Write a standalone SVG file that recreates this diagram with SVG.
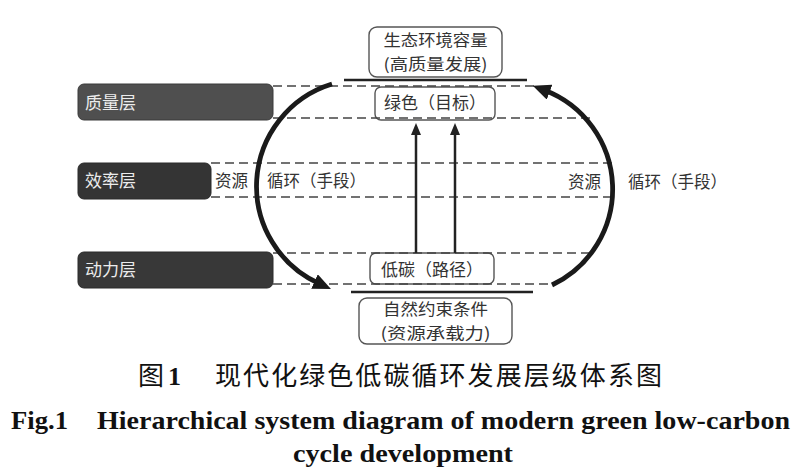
<svg xmlns="http://www.w3.org/2000/svg" width="800" height="470" viewBox="0 0 800 470">
<style>
.cjk{font-family:"Noto Sans CJK SC","Noto Sans",sans-serif;}
.t{font-size:17px;fill:#333;}
.t2{font-size:16px;fill:#333;}
.lay{font-size:17px;fill:#ececec;}
.box{fill:#fff;stroke:#555;stroke-width:1.4;}
.dash{stroke:#444;stroke-width:1.5;stroke-dasharray:9 5;fill:none;}
.bar{stroke:#222;stroke-width:2.5;}
.arc{fill:none;stroke:#1a1a1a;stroke-width:4.8;}
.varr{stroke:#222;stroke-width:2.5;}
.en{font-family:"Liberation Serif","Times New Roman",serif;font-weight:bold;font-size:26px;fill:#111;}
</style>
<defs>
<marker id="big" markerUnits="userSpaceOnUse" markerWidth="18" markerHeight="16" refX="6" refY="8" orient="auto">
<path d="M0,0 L18,8 L0,16 z" fill="#1a1a1a"/>
</marker>
<marker id="small" markerUnits="userSpaceOnUse" markerWidth="12" markerHeight="10" refX="4" refY="5" orient="auto">
<path d="M0,0 L12,5 L0,10 z" fill="#222"/>
</marker>
</defs>
<rect width="800" height="470" fill="#fff"/>

<g id="layer-quality">
<rect x="78" y="84" width="195" height="36" rx="6" fill="#4f4f4f" stroke="#3a3a3a"/>
<text class="cjk lay" x="85" y="109">质量层</text>
</g>
<g id="layer-efficiency">
<rect x="78" y="163" width="133" height="36" rx="6" fill="#343434" stroke="#2a2a2a"/>
<text class="cjk lay" x="85" y="187">效率层</text>
</g>
<g id="layer-power">
<rect x="78" y="252" width="195" height="36" rx="6" fill="#383838" stroke="#2a2a2a"/>
<text class="cjk lay" x="85" y="276">动力层</text>
</g>

<g id="node-capacity">
<rect class="box" x="369" y="27" width="133" height="50" rx="8"/>
<text class="cjk t2" x="435.5" y="45.5" text-anchor="middle" textLength="104" lengthAdjust="spacingAndGlyphs">生态环境容量</text>
<text class="cjk t2" x="435.5" y="69.5" text-anchor="middle" textLength="104" lengthAdjust="spacingAndGlyphs">(高质量发展)</text>
</g>
<g id="node-green">
<rect class="box" x="375" y="87" width="120" height="33" rx="6"/>
<text class="cjk t" x="435" y="109" text-anchor="middle">绿色（目标）</text>
</g>
<g id="node-lowcarbon">
<rect class="box" x="370" y="253" width="124" height="31" rx="6"/>
<text class="cjk t" x="432" y="276" text-anchor="middle">低碳（路径）</text>
</g>
<g id="node-nature">
<rect class="box" x="359" y="298" width="153" height="46" rx="8"/>
<text class="cjk t2" x="435.5" y="315" text-anchor="middle" textLength="105" lengthAdjust="spacingAndGlyphs">自然约束条件</text>
<text class="cjk t2" x="435.5" y="338.5" text-anchor="middle" textLength="110" lengthAdjust="spacingAndGlyphs">(资源承载力)</text>
</g>

<g id="connectors">
<line class="dash" x1="273" y1="86" x2="536" y2="86"/>
<line class="dash" x1="273" y1="118" x2="592" y2="118"/>
<line class="dash" x1="211" y1="163" x2="615" y2="163"/>
<line class="dash" x1="211" y1="197" x2="617" y2="197"/>
<line class="dash" x1="273" y1="253" x2="594" y2="253"/>
<line class="dash" x1="273" y1="284" x2="550" y2="284"/>
<line class="bar" x1="344" y1="80" x2="527" y2="80"/>
<line class="bar" x1="351" y1="292" x2="533" y2="292"/>
<line class="varr" x1="416" y1="253" x2="416" y2="131" marker-end="url(#small)"/>
<line class="varr" x1="455" y1="253" x2="455" y2="131" marker-end="url(#small)"/>
<path class="arc" d="M332,84 A107,107 0 0 0 320,284" marker-end="url(#big)"/>
<path class="arc" d="M552,285 A106,106 0 0 0 544,90" marker-end="url(#big)"/>
</g>

<g id="labels">
<text class="cjk" font-size="16.5" fill="#333" x="215" y="187">资源</text>
<text class="cjk" font-size="16.5" fill="#333" x="267" y="187">循环（手段）</text>
<text class="cjk" font-size="16.5" fill="#333" x="568" y="188">资源</text>
<text class="cjk" font-size="16.5" fill="#333" x="628" y="188">循环（手段）</text>
</g>

<g id="caption">
<text class="cjk" font-size="26" font-weight="400" fill="#111" x="138" y="385">图</text>
<text class="en" x="168" y="385">1</text>
<text class="cjk" font-size="26" font-weight="400" fill="#111" x="215" y="385" textLength="447">现代化绿色低碳循环发展层级体系图</text>
<text class="en" x="11" y="429" textLength="57" lengthAdjust="spacingAndGlyphs">Fig.1</text>
<text class="en" x="97" y="429" textLength="693" lengthAdjust="spacingAndGlyphs">Hierarchical system diagram of modern green low-carbon</text>
<text class="en" x="293" y="462" textLength="220" lengthAdjust="spacingAndGlyphs">cycle development</text>
</g>
</svg>
